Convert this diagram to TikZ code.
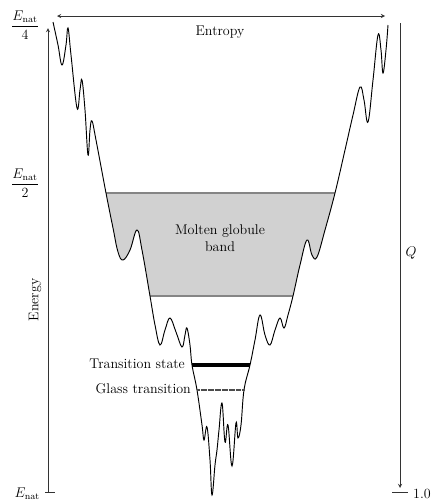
\documentclass[tikz,border=0pt]{standalone}
\usepackage{amsmath,amssymb}
\usepackage{tikz}
\definecolor{bandgrau}{gray}{0.82}
\definecolor{bandrand}{gray}{0.52}

% Energielandschaft (Trichter)
\newcommand{\trichter}{plot[smooth, tension=0.65] coordinates {
    (53,22) (58,45) (62,65) (66,45) (68,28) (71,55) (77,108) (80,90) (82,80)
    (85,110) (88,155) (90,130) (92,121) (96,140) (106,193) (113,228) (118,252)
    (123,260) (130,250) (137,230) (142,250) (150,296) (155,325) (160,345)
    (165,330) (170,318) (176,332) (182,347) (185,335) (187,328) (190,345)
    (192,365) (197,390) (202,425) (204,440) (207,427) (210,460) (212,495)
    (215,465) (217,450) (219,430) (222,403) (225,442) (228,425) (232,466)
    (236,423) (238,438) (241,425) (244,390) (250,365) (255,340) (260,315)
    (265,335) (270,345) (275,330) (280,318) (284,328) (288,315) (293,296)
    (300,265) (307,240) (312,255) (317,257) (325,230) (335,193) (345,150)
    (353,115) (360,87) (364,100) (368,122) (373,80) (378,35) (381,50)
    (383,73) (386,50) (388,25)}}

\begin{document}
\begin{tikzpicture}[x=0.03cm, y=-0.03cm, >=stealth,
        font=\fontsize{12}{14}\selectfont,
        achse/.style={line width=0.6pt, black!80},
        kurve/.style={line width=0.8pt}]
    \useasboundingbox (0,0) rectangle (435,502);

    % Band (nur innerhalb des Trichters)
    \begin{scope}
        \clip \trichter -- (388,0) -- (53,0) -- cycle;
        \fill[bandgrau] (0,193) rectangle (435,296);
        \draw[bandrand, line width=1pt] (0,193) -- (435,193) (0,296) -- (435,296);
    \end{scope}

    % Linie
    \draw[kurve] \trichter;

    % Achsen
    \coordinate (Eunten) at (48,492);
    \coordinate (Eoben) at (48,28);
    \coordinate (Slinks) at (57,16);
    \coordinate (Srechts) at (385,16);
    \coordinate (Qoben) at (400,23);
    \coordinate (Qunten) at (400,488);
    \draw[achse, ->] (Eunten) -- (Eoben); % Energie
    \draw[achse] (Eunten) ++(-3,0) -- ++(10,0);
    \draw[achse, <->] (Slinks) -- (Srechts); % Entropie
    \draw[achse, ->] (Qoben) -- (Qunten); % Q
    \draw[achse] (Qunten) ++(-8,4) -- ++(16,0);

    % Zustaende
    \coordinate (tsL) at (192,365);
    \coordinate (tsR) at (250,365);
    \coordinate (glL) at (197,390);
    \coordinate (glR) at (244,390);
    \draw[line width=2.6pt] (tsL) -- (tsR);
    \draw[black!70, line width=2.4pt, dash pattern=on 0.5pt off 0.5pt] (glL) -- (glR);

    % Beschriftungen
    \node (viertel) at (25,25) {$\dfrac{E_\mathrm{nat}}{4}$};
    \node (halb) at (25,183) {$\dfrac{E_\mathrm{nat}}{2}$};
    \node[anchor=east] (enat) at (44,494) {$E_\mathrm{nat}$};
    \node[rotate=90] (energie) at (35,300) {Energy};
    \node (entropie) at (220,32) {Entropy};
    \node (q) at (411,253) {$Q$};
    \node[anchor=west] (eins) at (409,494) {1.0};
    \node[align=center] (band) at (220,238) {Molten globule\\band};
    \node[anchor=east] (tslabel) at (189,364) {Transition state};
    \node[anchor=east] (gllabel) at (195,389) {Glass transition};
\end{tikzpicture}
\end{document}
